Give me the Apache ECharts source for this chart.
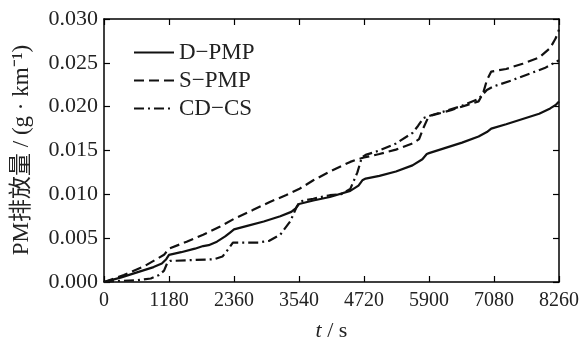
<!DOCTYPE html>
<html>
<head>
<meta charset="utf-8">
<script src="https://cdn.jsdelivr.net/npm/echarts@6/dist/echarts.min.js"></script>
<style>html,body{margin:0;padding:0;background:#fff}#c{width:582px;height:347px}</style>
</head>
<body>
<div id="c"></div>
<script>
var seriesNames = ['D\u2212PMP', 'S\u2212PMP', 'CD\u2212CS'];
var xTicks = [0, 1180, 2360, 3540, 4720, 5900, 7080, 8260];
var yTicks = [0, 0.005, 0.010, 0.015, 0.020, 0.025, 0.030];

var dPmpT = [0, 300, 600, 900, 1050, 1130, 1180, 1400, 1650, 1800, 1900, 2050, 2200, 2300, 2360, 2600, 2900, 3200, 3400, 3480, 3540, 3800, 4100, 4470, 4620, 4690, 4750, 5000, 5300, 5600, 5780, 5860, 5900, 6200, 6500, 6800, 6950, 7030, 7300, 7600, 7900, 8100, 8200, 8260];
var dPmpV = [0, 0.0005, 0.0011, 0.0017, 0.0021, 0.0026, 0.0031, 0.0034, 0.0038, 0.0041, 0.0042, 0.0046, 0.0052, 0.0057, 0.0060, 0.0064, 0.0069, 0.0075, 0.0080, 0.0084, 0.0089, 0.0093, 0.0097, 0.0104, 0.0110, 0.0116, 0.0118, 0.0121, 0.0126, 0.0133, 0.0140, 0.0146, 0.0147, 0.0153, 0.0159, 0.0166, 0.0171, 0.0175, 0.0180, 0.0186, 0.0192, 0.0198, 0.0202, 0.0206];

var sPmpT = [0, 360, 730, 1090, 1180, 1500, 1800, 2100, 2360, 2700, 3000, 3300, 3540, 3800, 4100, 4470, 4600, 4720, 5000, 5300, 5600, 5720, 5800, 5880, 5950, 6300, 6600, 6800, 6880, 6950, 7030, 7300, 7600, 7900, 8100, 8200, 8260];
var sPmpV = [0, 0.0008, 0.0018, 0.0031, 0.0038, 0.0046, 0.0054, 0.0063, 0.0072, 0.0082, 0.0091, 0.0099, 0.0106, 0.0116, 0.0126, 0.0137, 0.0140, 0.0142, 0.0146, 0.0151, 0.0158, 0.0163, 0.0176, 0.0187, 0.0190, 0.0196, 0.0202, 0.0206, 0.0215, 0.0230, 0.0240, 0.0243, 0.0249, 0.0256, 0.0267, 0.0278, 0.0288];

var cdCsT = [0, 200, 600, 850, 1000, 1090, 1150, 1200, 1600, 2000, 2150, 2250, 2340, 2500, 2800, 3000, 3200, 3380, 3500, 3560, 3800, 4100, 4300, 4470, 4600, 4680, 4750, 5000, 5300, 5600, 5700, 5800, 5930, 6200, 6500, 6800, 6950, 7070, 7400, 7700, 8000, 8260];
var cdCsV = [0, 0.0001, 0.0002, 0.0004, 0.0008, 0.0013, 0.0022, 0.0024, 0.0025, 0.0026, 0.0029, 0.0037, 0.0045, 0.0045, 0.0045, 0.0047, 0.0054, 0.0069, 0.0086, 0.0092, 0.0095, 0.0099, 0.0100, 0.0106, 0.0125, 0.0142, 0.0145, 0.0150, 0.0158, 0.0170, 0.0178, 0.0187, 0.0190, 0.0195, 0.0201, 0.0209, 0.0219, 0.0223, 0.0230, 0.0237, 0.0244, 0.0253];

function zip(t, v) { return t.map(function (x, i) { return [x, v[i]]; }); }

var FONT = '"Liberation Serif","Times New Roman","Noto Sans CJK SC",serif';
var chart = echarts.init(document.getElementById('c'), null, {renderer: 'canvas'});

function axisLine() { return {show: true, onZero: false, lineStyle: {color: '#000', width: 1.5}}; }
function tick() { return {show: true, inside: true, length: 6, lineStyle: {color: '#000', width: 1.2}}; }

chart.setOption({
  animation: false,
  backgroundColor: '#fff',
  grid: {left: 104, right: 23, top: 19, bottom: 63, containLabel: false},
  legend: {
    orient: 'vertical', left: 128, top: 36,
    itemWidth: 40, itemHeight: 14, itemGap: 5,
    itemStyle: {opacity: 0},
    textStyle: {fontFamily: FONT, fontSize: 23, color: '#222', lineHeight: 23},
    data: seriesNames
  },
  xAxis: [{
    type: 'value', min: xTicks[0], max: xTicks[xTicks.length - 1], interval: 1180,
    axisLine: axisLine(), axisTick: tick(), splitLine: {show: false},
    axisLabel: {fontFamily: FONT, fontSize: 20, color: '#222', margin: 9, formatter: function (v) { return String(v); }},
    name: '{i|t} / s', nameLocation: 'middle', nameGap: 38,
    nameTextStyle: {fontFamily: FONT, fontSize: 22, color: '#222', rich: {i: {fontFamily: FONT, fontStyle: 'italic', fontSize: 22, color: '#222'}}}
  }, {
    type: 'value', position: 'top', min: xTicks[0], max: xTicks[xTicks.length - 1], interval: 1180,
    axisLine: axisLine(), axisTick: tick(), axisLabel: {show: false}, splitLine: {show: false}
  }],
  yAxis: [{
    type: 'value', min: yTicks[0], max: yTicks[yTicks.length - 1], interval: 0.005,
    axisLine: axisLine(), axisTick: tick(), splitLine: {show: false},
    axisLabel: {fontFamily: FONT, fontSize: 22, color: '#222', margin: 6, formatter: function (v) { return v.toFixed(3); }}
  }, {
    type: 'value', position: 'right', min: yTicks[0], max: yTicks[yTicks.length - 1], interval: 0.005,
    axisLine: axisLine(), axisTick: tick(), axisLabel: {show: false}, splitLine: {show: false}
  }],
  graphic: [{
    type: 'text', x: 22, y: 150, rotation: Math.PI / 2,
    style: {text: 'PM\u6392\u653e\u91cf / (g \u00b7 km\u207b\u00b9)', fontFamily: FONT, fontSize: 23, fill: '#222', align: 'center', verticalAlign: 'middle'}
  }],
  series: [{
    name: seriesNames[0], type: 'line', data: zip(dPmpT, dPmpV), symbol: 'none',
    lineStyle: {color: '#111', width: 2.2, type: 'solid'}, itemStyle: {color: '#111'}
  }, {
    name: seriesNames[1], type: 'line', data: zip(sPmpT, sPmpV), symbol: 'none',
    lineStyle: {color: '#111', width: 2.2, type: [10, 5]}, itemStyle: {color: '#111'}
  }, {
    name: seriesNames[2], type: 'line', data: zip(cdCsT, cdCsV), symbol: 'none',
    lineStyle: {color: '#111', width: 2.2, type: [10, 4, 2, 4]}, itemStyle: {color: '#111'}
  }]
});
</script>
</body>
</html>
